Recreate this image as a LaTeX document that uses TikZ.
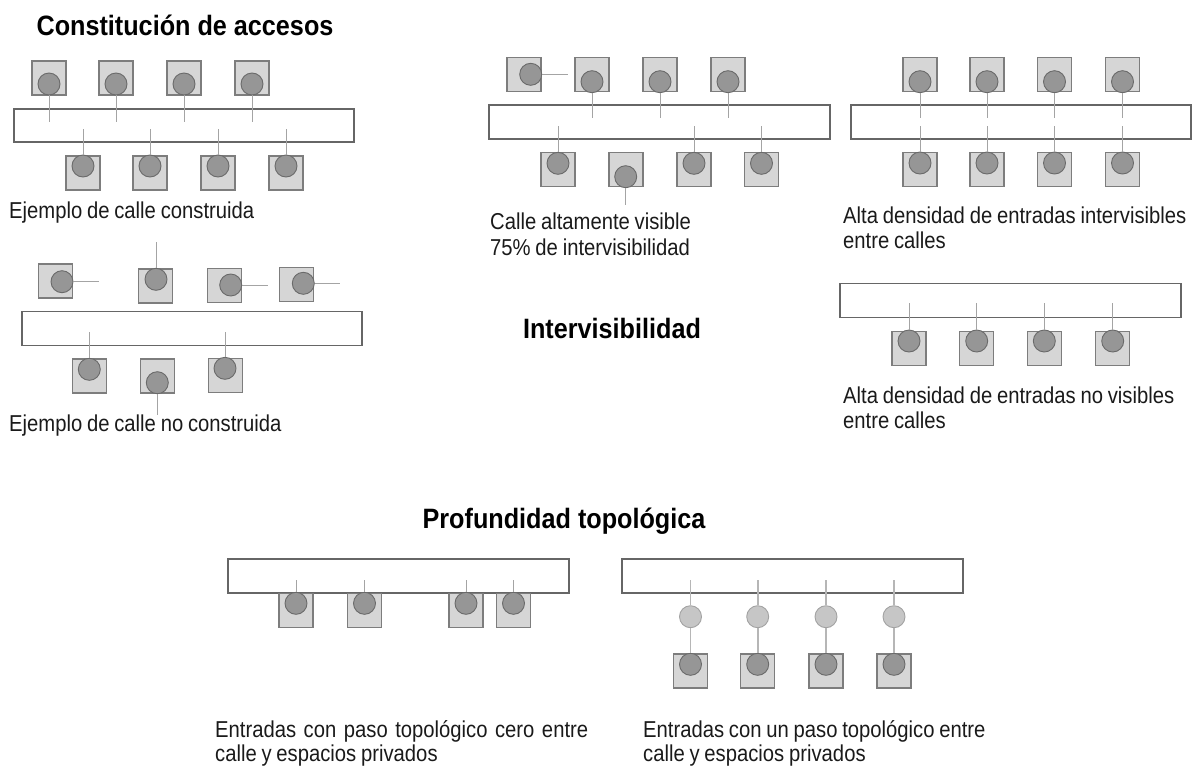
\documentclass[tikz,border=0pt]{standalone}
\usepackage{fontspec}
\setmainfont{Liberation Sans}[FakeStretch=0.88, WordSpace=0.85]
\newfontfamily\titlefont{Liberation Sans}[FakeStretch=0.9]
\definecolor{lotfill}{HTML}{D6D6D6}
\definecolor{lotdraw}{HTML}{7D7D7D}
\definecolor{doorfill}{HTML}{969696}
\definecolor{doordraw}{HTML}{6A6A6A}
\definecolor{linkc}{HTML}{A4A4A4}
\definecolor{streetc}{HTML}{666666}
\definecolor{smallfill}{HTML}{C6C6C6}
\definecolor{smalldraw}{HTML}{A2A2A2}
\definecolor{txt}{HTML}{1A1A1A}
\tikzset{
  street/.style={draw=streetc, line width=1.2pt, fill=white, rectangle, inner sep=0pt},
  lot/.style={draw=lotdraw, fill=lotfill, rectangle, minimum size=34pt, inner sep=0pt, line width=1.1pt},
  door/.style={draw=doordraw, fill=doorfill, circle, minimum size=22pt, inner sep=0pt, line width=0.9pt},
  smalldoor/.style={draw=smalldraw, fill=smallfill, circle, minimum size=22pt, inner sep=0pt, line width=0.9pt},
  link/.style={draw=linkc, line width=0.9pt},
  thicklink/.style={draw=linkc!80, line width=1.8pt},
  ttl/.style={font=\titlefont\bfseries\fontsize{28}{32}\selectfont, text=black, inner sep=0pt, anchor=base},
  lbl/.style={font=\fontsize{23}{25}\selectfont, text=txt, inner sep=0pt, anchor=base west},
  lbl2/.style={font=\fontsize{23}{24}\selectfont, text=txt, inner sep=0pt, anchor=base west, text width=#1},
}
\begin{document}
\begin{tikzpicture}[x=1pt,y=-1pt]
\useasboundingbox (0,0) rectangle (1196,766);

% Titles
\node[ttl] (t1) at (185,35) {Constitución de accesos};
\node[ttl] (t2) at (612,338) {Intervisibilidad};
\node[ttl] (t3) at (564,528) {Profundidad topológica};

% ---------- Panel 1: calle construida
\node[street, minimum width=340pt, minimum height=33pt] (s1) at (184,125.5) {};
\foreach \x [count=\i] in {49,116,184,252} {
  \node[lot] (l1t\i) at (\x,78) {};
  \node[door] (d1t\i) at (\x,84) {};
  \coordinate (e1t\i) at (\x,122);
  \draw[link] (d1t\i.south) -- (e1t\i);
}
\foreach \x [count=\i] in {83,150,218,286} {
  \node[lot] (l1b\i) at (\x,173) {};
  \node[door] (d1b\i) at (\x,166) {};
  \coordinate (e1b\i) at (\x,129);
  \draw[link] (e1b\i) -- (d1b\i.north);
}
\node[lbl] (c1) at (9,218.5) {Ejemplo de calle construida};

% ---------- Panel 2: calle no construida
\node[street, minimum width=340pt, minimum height=34pt] (s2) at (192,328.5) {};
\node[lot] (l2t1) at (55.5,281) {};
\node[door] (d2t1) at (62,281.7) {};
\coordinate (e2t1) at (99,281.7);
\draw[link] (d2t1.east) -- (e2t1);
\node[lot] (l2t2) at (155.5,286) {};
\node[door] (d2t2) at (156,279.3) {};
\coordinate (e2t2) at (156,242);
\draw[link] (d2t2.north) -- (e2t2);
\node[lot] (l2t3) at (224.5,285.5) {};
\node[door] (d2t3) at (230.7,285) {};
\coordinate (e2t3) at (268,285);
\draw[link] (d2t3.east) -- (e2t3);
\node[lot] (l2t4) at (296.5,284.5) {};
\node[door] (d2t4) at (303.3,283.3) {};
\coordinate (e2t4) at (340,283.3);
\draw[link] (d2t4.east) -- (e2t4);
\node[lot] (l2b1) at (89.5,376) {};
\node[door] (d2b1) at (89.3,369.3) {};
\coordinate (e2b1) at (89.3,332);
\draw[link] (e2b1) -- (d2b1.north);
\node[lot] (l2b2) at (157.5,376) {};
\node[door] (d2b2) at (157.3,382.7) {};
\coordinate (e2b2) at (157.3,415);
\draw[link] (d2b2.south) -- (e2b2);
\node[lot] (l2b3) at (225.5,375.5) {};
\node[door] (d2b3) at (225,368.3) {};
\coordinate (e2b3) at (225,332);
\draw[link] (e2b3) -- (d2b3.north);
\node[lbl] (c2) at (9,431) {Ejemplo de calle no construida};

% ---------- Panel 3: calle altamente visible
\node[street, minimum width=341pt, minimum height=34pt] (s3) at (659.5,122) {};
\node[lot] (l3t1) at (524,74.5) {};
\node[door] (d3t1) at (530.7,74.3) {};
\coordinate (e3t1) at (567.7,74.3);
\draw[link] (d3t1.east) -- (e3t1);
\foreach \x [count=\i from 2] in {592,660,728} {
  \node[lot] (l3t\i) at (\x,74.5) {};
  \node[door] (d3t\i) at (\x,81.7) {};
  \coordinate (e3t\i) at (\x,118);
  \draw[link] (d3t\i.south) -- (e3t\i);
}
\foreach \x/\i in {558/1,694/3,761.5/4} {
  \node[lot] (l3b\i) at (\x,169.5) {};
  \node[door] (d3b\i) at (\x,163.3) {};
  \coordinate (e3b\i) at (\x,126);
  \draw[link] (e3b\i) -- (d3b\i.north);
}
\node[lot] (l3b2) at (626,169.5) {};
\node[door] (d3b2) at (625.7,176.7) {};
\coordinate (e3b2) at (625.7,205);
\draw[link] (d3b2.south) -- (e3b2);
\node[lbl] (c3a) at (490,229) {Calle altamente visible};
\node[lbl] (c3b) at (490,255) {75\% de intervisibilidad};

% ---------- Panel 4: entradas intervisibles
\node[street, minimum width=340pt, minimum height=34pt] (s4) at (1021,122) {};
\foreach \x [count=\i] in {920,987,1054.5,1122.5} {
  \node[lot] (l4t\i) at (\x,74.5) {};
  \node[door] (d4t\i) at (\x,81.7) {};
  \node[lot] (l4b\i) at (\x,169.5) {};
  \node[door] (d4b\i) at (\x,163) {};
  \coordinate (e4t\i) at (\x,118);
  \coordinate (e4b\i) at (\x,126);
  \draw[link] (d4t\i.south) -- (e4t\i);
  \draw[link] (e4b\i) -- (d4b\i.north);
}
\node[lbl] (c4a) at (843,223) {Alta densidad de entradas intervisibles};
\node[lbl] (c4b) at (843,248.5) {entre calles};

% ---------- Panel 5: entradas no visibles
\node[street, minimum width=341pt, minimum height=34pt] (s5) at (1010.5,300.5) {};
\foreach \x [count=\i] in {909,976.7,1044.3,1112.7} {
  \node[lot] (l5\i) at (\x,348.5) {};
  \node[door] (d5\i) at (\x,341) {};
  \coordinate (e5\i) at (\x,303);
  \draw[link] (e5\i) -- (d5\i.north);
}
\node[lbl] (c5a) at (843,403) {Alta densidad de entradas no visibles};
\node[lbl] (c5b) at (843,428.5) {entre calles};

% ---------- Panel 6: paso topologico cero
\node[street, minimum width=341pt, minimum height=34pt] (s6) at (398.5,576) {};
\foreach \x [count=\i] in {296,364.5,466,513.5} {
  \node[lot] (l6\i) at (\x,610.5) {};
  \node[door] (d6\i) at (\x,603.3) {};
  \coordinate (e6\i) at (\x,580);
  \draw[link] (e6\i) -- (d6\i.north);
}
\node[lbl2=373pt, align=justify] (c6) at (215,737) {\hyphenpenalty=10000 Entradas con paso topológico cero entre calle y espacios privados};

% ---------- Panel 7: un paso topologico
\node[street, minimum width=341pt, minimum height=34pt] (s7) at (792.5,576) {};
\foreach \x [count=\i] in {690.5,757.7,826,894} {
  \node[lot] (l7\i) at (\x,671) {};
  \node[door] (d7\i) at (\x,664.3) {};
  \node[smalldoor] (m7\i) at (\x,616.7) {};
  \coordinate (e7\i) at (\x,580);
  \draw[thicklink] (e7\i) -- (m7\i.north);
  \draw[thicklink] (m7\i.south) -- (d7\i.north);
}
\node[lbl] (c7a) at (643,737) {Entradas con un paso topológico entre};
\node[lbl] (c7b) at (643,761) {calle y espacios privados};
\end{tikzpicture}
\end{document}
